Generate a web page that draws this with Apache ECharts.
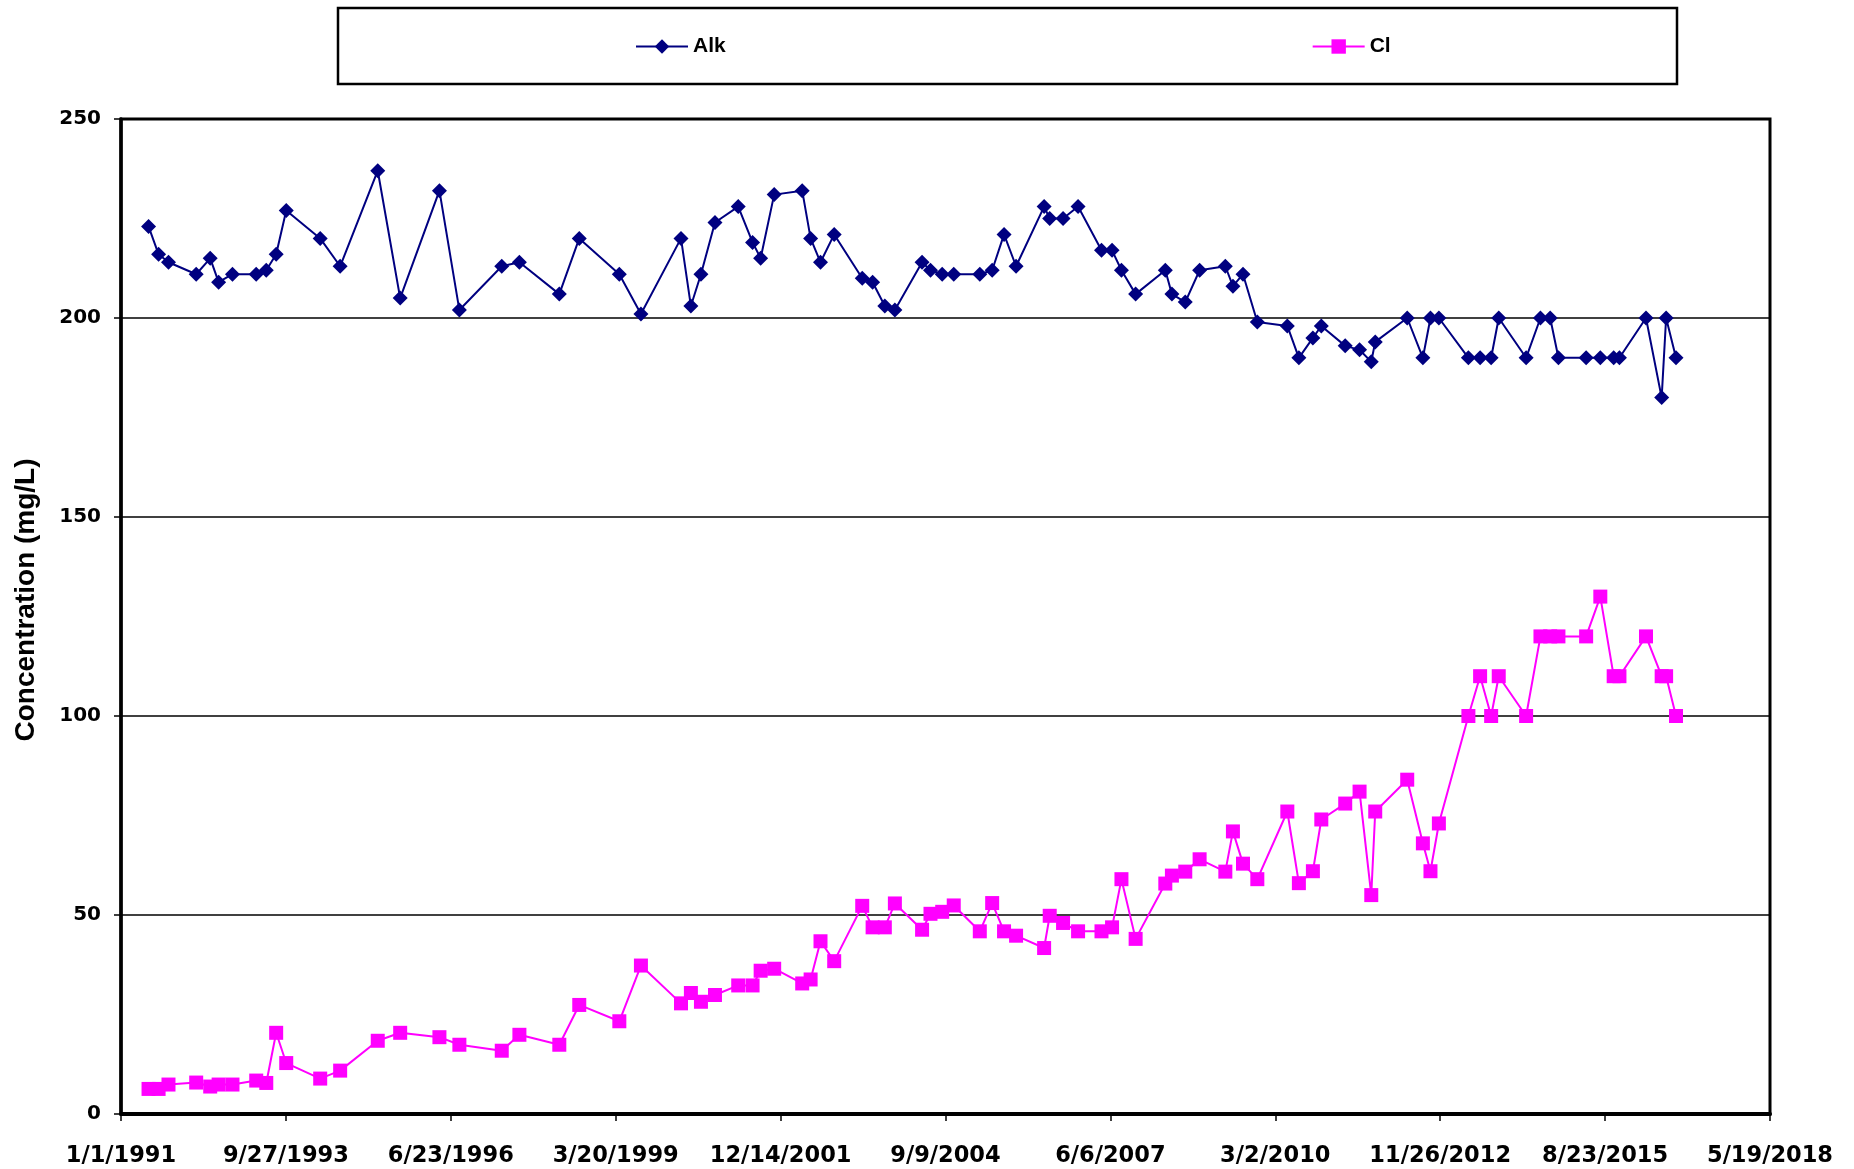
<!DOCTYPE html>
<html>
<head>
<meta charset="utf-8">
<title>Alk and Cl concentrations</title>
<script src="https://cdn.jsdelivr.net/npm/echarts@6/dist/echarts.min.js"></script>
<style>
  html, body { margin: 0; padding: 0; background: #fff; }
  #chart { width: 1854px; height: 1169px; }
</style>
</head>
<body>
<div id="chart"></div>
<script>
// Sampling dates (shared by both analytes)
const sampleDates = [
  '1991-06-17','1991-08-17','1991-10-16','1992-04-01','1992-06-25','1992-08-15','1992-11-07',
  '1993-03-31','1993-05-31','1993-07-30','1993-09-29','1994-04-23','1994-08-22','1995-04-07',
  '1995-08-21','1996-04-15','1996-08-14','1997-04-28','1997-08-13','1998-04-12','1998-08-11',
  '1999-04-11','1999-08-20','2000-04-19','2000-06-18','2000-08-18','2000-11-11','2001-04-01',
  '2001-06-27','2001-08-15','2001-11-05','2002-04-24','2002-06-14','2002-08-13','2002-11-04',
  '2003-04-23','2003-06-25','2003-09-07','2003-11-07','2004-04-20','2004-06-10','2004-08-20',
  '2004-10-29','2005-04-05','2005-06-19','2005-08-30','2005-11-11','2006-04-30','2006-06-03',
  '2006-08-23','2006-11-22','2007-04-13','2007-06-16','2007-08-12','2007-11-06','2008-05-04',
  '2008-06-13','2008-09-02','2008-11-28','2009-05-03','2009-06-18','2009-08-18','2009-11-13',
  '2010-05-14','2010-07-23','2010-10-16','2010-12-06','2011-04-30','2011-07-26','2011-10-05',
  '2011-10-29','2012-05-10','2012-08-13','2012-09-28','2012-11-18','2013-05-16','2013-07-26',
  '2013-10-01','2013-11-16','2014-05-01','2014-07-27','2014-09-24','2014-11-13','2015-04-30',
  '2015-07-25','2015-10-14','2015-11-18','2016-04-27','2016-07-31','2016-08-27','2016-10-26'
];

// Alkalinity, mg/L
const alkValues = [
  223, 216, 214, 211, 215, 209, 211,
  211, 212, 216, 227, 220, 213, 237,
  205, 232, 202, 213, 214, 206, 220,
  211, 201, 220, 203, 211, 224, 228,
  219, 215, 231, 232, 220, 214, 221,
  210, 209, 203, 202, 214, 212, 211,
  211, 211, 212, 221, 213, 228, 225,
  225, 228, 217, 217, 212, 206, 212,
  206, 204, 212, 213, 208, 211, 199,
  198, 190, 195, 198, 193, 192, 189,
  194, 200, 190, 200, 200, 190, 190,
  190, 200, 190, 200, 200, 190, 190,
  190, 190, 190, 200, 180, 200, 190
];

// Chloride, mg/L
const clValues = [
  6.3, 6.3, 7.4, 7.9, 6.9, 7.4, 7.4,
  8.4, 7.8, 20.4, 12.8, 8.9, 10.9, 18.4,
  20.4, 19.3, 17.4, 15.9, 19.9, 17.4, 27.4,
  23.3, 37.3, 27.8, 30.4, 28.2, 29.9, 32.3,
  32.3, 36, 36.5, 32.8, 33.8, 43.4, 38.4,
  52.3, 46.9, 46.9, 52.9, 46.3, 50.3, 50.8,
  52.4, 45.9, 53, 45.9, 44.8, 41.7, 49.8,
  48, 45.9, 45.9, 46.9, 59, 44, 57.9,
  59.9, 60.9, 64, 60.9, 71, 62.9, 59,
  76, 58, 61, 74, 78, 81, 55,
  76, 84, 68, 61, 73, 100, 110,
  100, 110, 100, 120, 120, 120, 120,
  130, 110, 110, 120, 110, 110, 100
];

// Date-axis labels, one per 1000 days starting 1/1/1991
const xTickLabels = [
  '1/1/1991','9/27/1993','6/23/1996','3/20/1999','12/14/2001','9/9/2004',
  '6/6/2007','3/2/2010','11/26/2012','8/23/2015','5/19/2018'
];

const seriesNames = ['Alk', 'Cl'];
const yTitle = 'Concentration (mg/L)';

// x positions are days elapsed since the axis origin
const origin = Date.parse('1991-01-01');
const dayOf = d => (Date.parse(d) - origin) / 86400000;
const pairs = vals => sampleDates.map((d, i) => [dayOf(d), vals[i]]);

const chart = echarts.init(document.getElementById('chart'), null, { renderer: 'canvas' });

chart.setOption({
  backgroundColor: '#ffffff',
  animation: false,
  grid: {
    left: 121, right: 84, top: 119, bottom: 55,
    show: true, borderColor: '#000', borderWidth: 3, backgroundColor: 'transparent'
  },
  legend: {
    data: seriesNames,
    left: 630, top: 31,
    itemWidth: 52, itemHeight: 18, itemGap: 586,
    textStyle: { fontFamily: 'Liberation Sans', fontWeight: 'bold', fontSize: 21, color: '#000' }
  },
  graphic: [
    {
      type: 'rect', silent: true, z: -1,
      shape: { x: 338, y: 8, width: 1339, height: 76 },
      style: { fill: '#fff', stroke: '#000', lineWidth: 2.5 }
    },
    {
      type: 'text', silent: true,
      x: 26, y: 600, rotation: Math.PI / 2,
      style: {
        text: yTitle, fontFamily: 'Liberation Sans', fontWeight: 'bold', fontSize: 28,
        fill: '#000', textAlign: 'center', textVerticalAlign: 'middle'
      }
    }
  ],
  xAxis: {
    type: 'value', min: 0, max: 10000, interval: 1000,
    axisLine: { show: true, onZero: false, lineStyle: { color: '#000', width: 4 } },
    axisTick: { show: true, length: 7, lineStyle: { color: '#000', width: 1.5 } },
    splitLine: { show: false },
    axisLabel: {
      margin: 31, hideOverlap: false, showMinLabel: true, showMaxLabel: true,
      fontFamily: 'DejaVu Sans', fontWeight: 'bold', fontSize: 22.5, color: '#000',
      formatter: v => xTickLabels[Math.round(v / 1000)] || ''
    }
  },
  yAxis: {
    type: 'value', min: 0, max: 250, interval: 50,
    axisLine: { show: true, lineStyle: { color: '#000', width: 3.5 } },
    axisTick: { show: true, length: 7, lineStyle: { color: '#000', width: 1.5 } },
    splitLine: { show: true, lineStyle: { color: '#000', width: 1.5 } },
    axisLabel: {
      margin: 20, fontFamily: 'DejaVu Sans', fontWeight: 'bold', fontSize: 20, color: '#000'
    }
  },
  series: [
    {
      name: 'Alk', type: 'line', data: pairs(alkValues),
      symbol: 'diamond', symbolSize: 15, showAllSymbol: true,
      lineStyle: { color: '#000080', width: 2 },
      itemStyle: { color: '#000080' }
    },
    {
      name: 'Cl', type: 'line', data: pairs(clValues),
      symbol: 'rect', symbolSize: 14, showAllSymbol: true,
      lineStyle: { color: '#FF00FF', width: 2 },
      itemStyle: { color: '#FF00FF' }
    }
  ]
});
</script>
</body>
</html>
